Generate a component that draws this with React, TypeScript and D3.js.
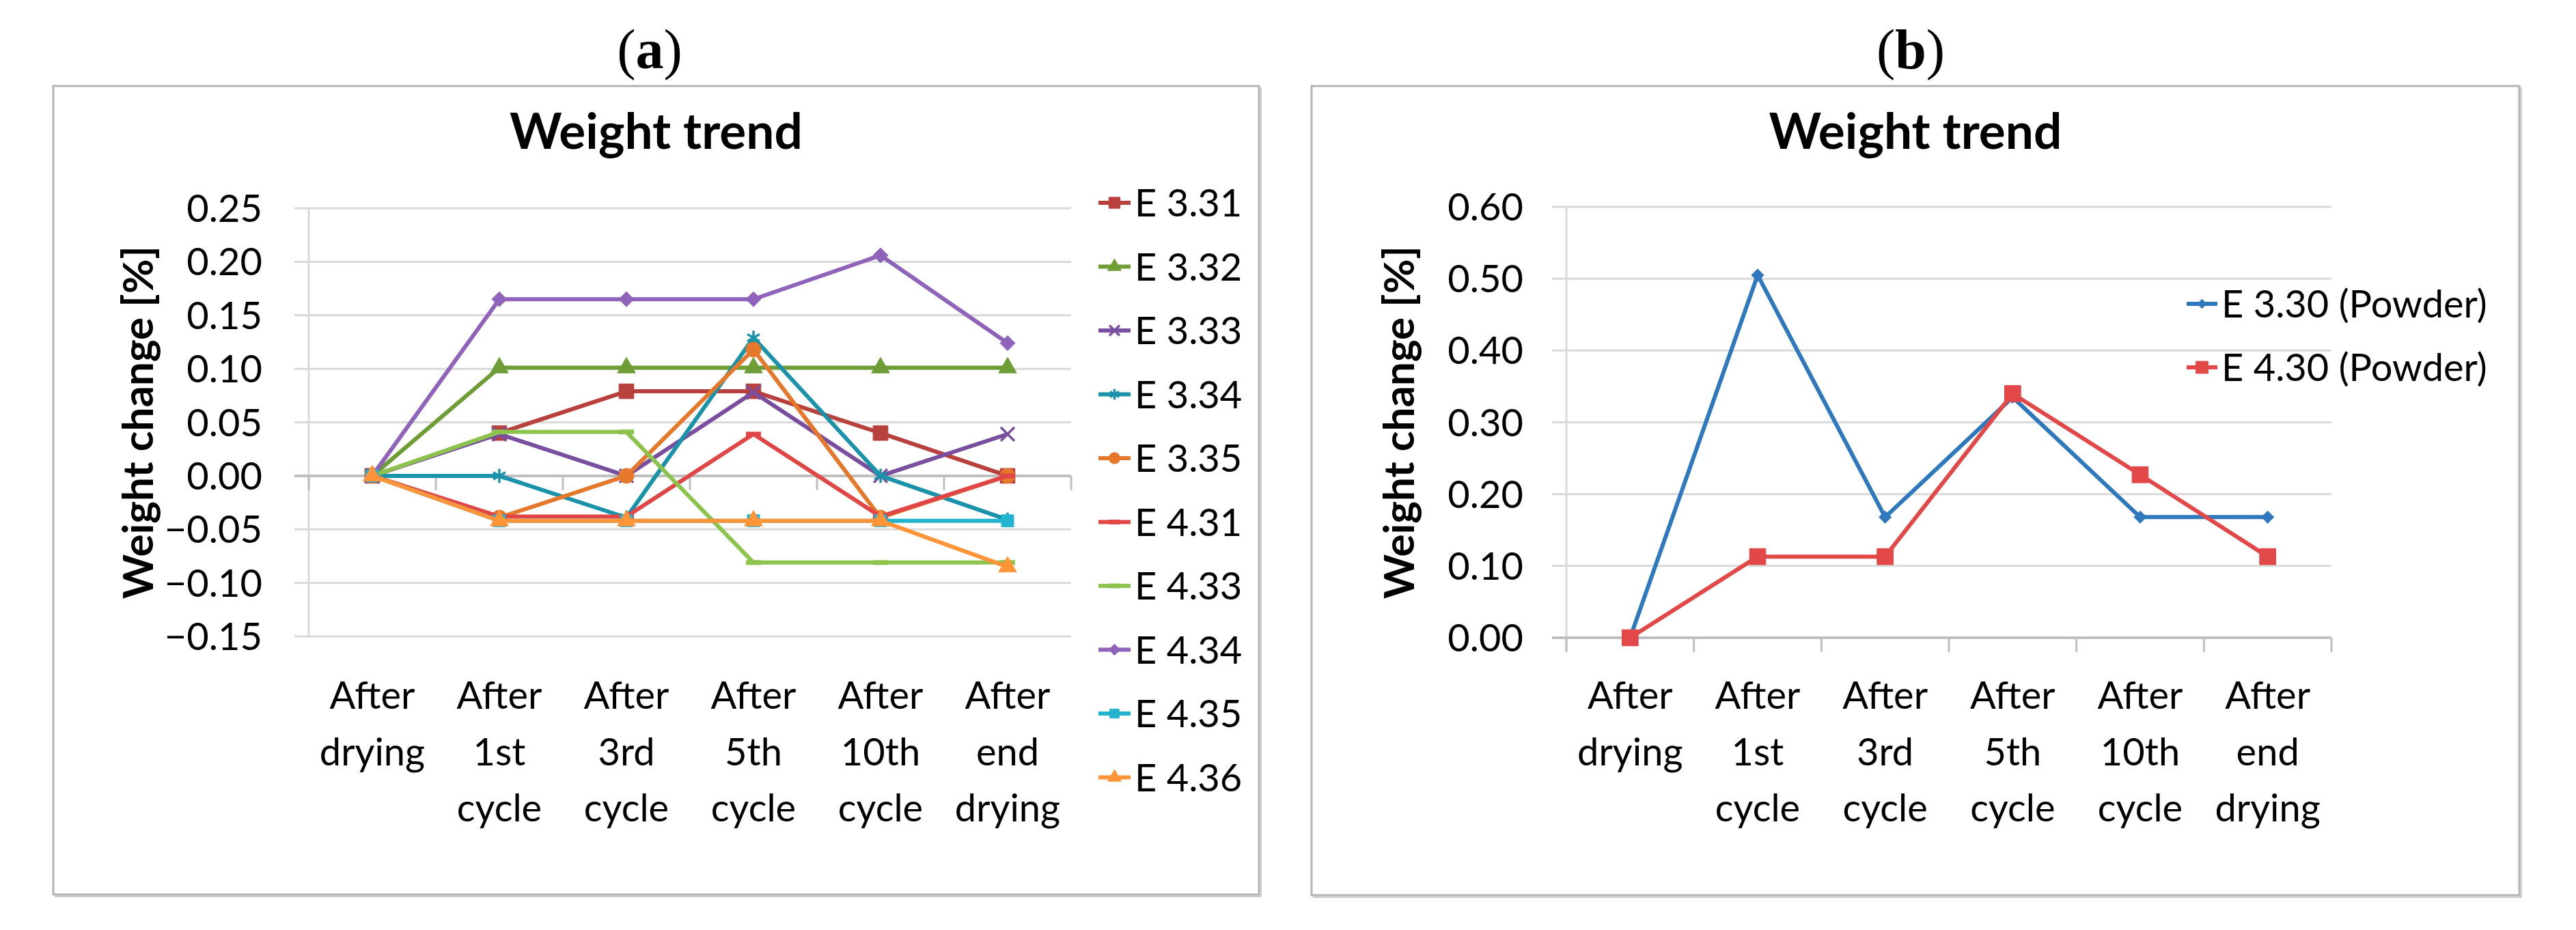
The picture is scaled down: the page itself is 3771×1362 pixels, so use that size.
import React from "react";
import * as d3 from "d3";

// ---------------- data ----------------
const CATEGORY_LINES: string[][] = [
  ["After", "drying"],
  ["After", "1st", "cycle"],
  ["After", "3rd", "cycle"],
  ["After", "5th", "cycle"],
  ["After", "10th", "cycle"],
  ["After", "end", "drying"],
];

// panel (a)
const E331 = [0, 0.04, 0.079, 0.079, 0.04, 0];
const E332 = [0, 0.101, 0.101, 0.101, 0.101, 0.101];
const E333 = [0, 0.039, 0, 0.078, 0, 0.039];
const E334 = [0, 0, -0.039, 0.129, 0, -0.041];
const E335 = [0, -0.039, 0, 0.118, -0.039, 0];
const E431 = [0, -0.038, -0.038, 0.039, -0.038, 0];
const E433 = [0, 0.041, 0.041, -0.081, -0.081, -0.081];
const E434 = [0, 0.165, 0.165, 0.165, 0.206, 0.124];
const E435 = [0, -0.042, -0.042, -0.042, -0.042, -0.042];
const E436 = [0, -0.042, -0.042, -0.042, -0.042, -0.085];
const SERIES_A_NAMES = ["E 3.31", "E 3.32", "E 3.33", "E 3.34", "E 3.35", "E 4.31", "E 4.33", "E 4.34", "E 4.35", "E 4.36"];
const SERIES_A_VALUES = [E331, E332, E333, E334, E335, E431, E433, E434, E435, E436];
const Y_TICKS_A = [-0.15, -0.1, -0.05, 0, 0.05, 0.1, 0.15, 0.2, 0.25];

// panel (b)
const E330 = [0, 0.505, 0.168, 0.335, 0.168, 0.168];
const E430 = [0, 0.113, 0.113, 0.34, 0.227, 0.113];
const SERIES_B_NAMES = ["E 3.30 (Powder)", "E 4.30 (Powder)"];
const SERIES_B_VALUES = [E330, E430];
const Y_TICKS_B = [0, 0.1, 0.2, 0.3, 0.4, 0.5, 0.6];

const TITLE = "Weight trend";
const Y_TITLE = "Weight change [%]";

// ---------------- styles ----------------
type MarkerKind = "square" | "triangle" | "times" | "asterisk" | "circle" | "dash" | "diamond";
interface Style { color: string; marker: MarkerKind; size: number; }

const STYLES_A: Style[] = [
  { color: "#B8403D", marker: "square", size: 470 },
  { color: "#6E9C35", marker: "triangle", size: 300 },
  { color: "#7A4E9E", marker: "times", size: 260 },
  { color: "#1A92AA", marker: "asterisk", size: 300 },
  { color: "#E5782B", marker: "circle", size: 380 },
  { color: "#E04646", marker: "dash", size: 0 },
  { color: "#8CC34C", marker: "dash", size: 0 },
  { color: "#9063BA", marker: "diamond", size: 310 },
  { color: "#22B3CF", marker: "square", size: 320 },
  { color: "#FF9438", marker: "triangle", size: 300 },
];
const STYLES_B: Style[] = [
  { color: "#2E78BE", marker: "diamond", size: 210 },
  { color: "#E24848", marker: "square", size: 560 },
];

const FONT = "Lato, 'Open Sans', 'DejaVu Sans', sans-serif";
const SERIF = "'Palatino Linotype', 'Book Antiqua', Palatino, 'Liberation Serif', 'DejaVu Serif', serif";
const GRID = "#D9D9D9";
const AXIS = "#BFBFBF";

const SYMBOLS: Record<string, d3.SymbolType> = {
  square: d3.symbolSquare,
  triangle: d3.symbolTriangle,
  circle: d3.symbolCircle,
  diamond: d3.symbolDiamond2,
  times: d3.symbolTimes,
  asterisk: d3.symbolAsterisk,
};

function Marker({ style, x, y, scale = 1 }: { style: Style; x: number; y: number; scale?: number }) {
  if (style.marker === "dash") {
    const w = 22 * scale;
    return <rect x={x - w / 2} y={y - 3.5} width={w} height={7} fill={style.color} />;
  }
  const strokeOnly = style.marker === "times" || style.marker === "asterisk";
  const d = d3.symbol(SYMBOLS[style.marker], style.size * scale * scale)() || "";
  return (
    <path
      d={d}
      transform={`translate(${x},${y})`}
      fill={strokeOnly ? "none" : style.color}
      stroke={style.color}
      strokeWidth={strokeOnly ? 3.5 : 1}
    />
  );
}

interface PanelProps {
  label: string;
  labelX: number;
  frame: [number, number, number, number];
  plotLeft: number;
  plotRight: number;
  plotTop: number;
  plotBottom: number;
  yTicks: number[];
  names: string[];
  values: number[][];
  styles: Style[];
  tickLabelX: number;
  yTitleX: number;
  legendLineX0: number;
  legendLineX1: number;
  legendTextX: number;
  legendY0: number;
  legendStep: number;
}

function Panel(p: PanelProps) {
  const idx = d3.range(CATEGORY_LINES.length);
  const x = d3.scaleBand<number>().domain(idx).range([p.plotLeft, p.plotRight]);
  const cx = (i: number) => (x(i) as number) + x.bandwidth() / 2;
  const y = d3
    .scaleLinear()
    .domain([d3.min(p.yTicks) as number, d3.max(p.yTicks) as number])
    .range([p.plotBottom, p.plotTop]);
  const line = d3
    .line<number>()
    .x((_, i) => cx(i))
    .y((v) => y(v));
  const fmt = d3.format(".2f");
  const y0 = y(0);
  const tickLen = 21;
  const [fx0, fy0, fx1, fy1] = p.frame;
  const frameCx = (fx0 + fx1) / 2;
  const boundaries = d3.range(CATEGORY_LINES.length + 1).map((k) => p.plotLeft + k * x.bandwidth());

  return (
    <g>
      {/* panel label */}
      <text x={p.labelX} y={100} textAnchor="middle" fontFamily={SERIF} fontSize={82} fill="#000">
        <tspan>(</tspan>
        <tspan fontWeight="bold">{p.label}</tspan>
        <tspan>)</tspan>
      </text>
      {/* frame */}
      <rect x={fx0} y={fy0} width={fx1 - fx0} height={fy1 - fy0} fill="#fff" stroke="#B4B4B4" strokeWidth={3} />
      <line x1={fx1 + 2.5} y1={fy0 + 2} x2={fx1 + 2.5} y2={fy1 + 3} stroke="#CCCCCC" strokeWidth={3} />
      <line x1={fx0 + 2} y1={fy1 + 2.5} x2={fx1 + 3} y2={fy1 + 2.5} stroke="#CCCCCC" strokeWidth={3} />
      {/* title */}
      <text x={frameCx} y={218} textAnchor="middle" fontFamily={FONT} fontWeight="bold" fontSize={73} fill="#000">
        {TITLE}
      </text>
      {/* gridlines */}
      {p.yTicks
        .filter((t) => t !== 0)
        .map((t) => (
          <line key={t} x1={p.plotLeft - tickLen} x2={p.plotRight} y1={y(t)} y2={y(t)} stroke={GRID} strokeWidth={3} />
        ))}
      {/* vertical axis */}
      <line
        x1={p.plotLeft}
        x2={p.plotLeft}
        y1={p.plotTop}
        y2={Math.max(p.plotBottom, y0 + tickLen)}
        stroke={GRID}
        strokeWidth={3}
      />
      {/* horizontal axis at zero */}
      <line x1={p.plotLeft - tickLen} x2={p.plotRight} y1={y0} y2={y0} stroke={AXIS} strokeWidth={4} />
      {boundaries.map((b, k) => (
        <line key={k} x1={b} x2={b} y1={y0} y2={y0 + tickLen} stroke={AXIS} strokeWidth={3} />
      ))}
      {/* y tick labels */}
      {p.yTicks.map((t) => (
        <text key={t} x={p.tickLabelX} y={y(t) + 20} textAnchor="end" fontFamily={FONT} fontSize={56} fill="#000">
          {fmt(t)}
        </text>
      ))}
      {/* y title */}
      <text
        transform={`translate(${p.yTitleX},${(p.plotTop + p.plotBottom) / 2}) rotate(-90)`}
        textAnchor="middle"
        fontFamily={FONT}
        fontWeight="bold"
        fontSize={62}
        fill="#000"
      >
        {Y_TITLE}
      </text>
      {/* category labels */}
      {CATEGORY_LINES.map((lines, i) => (
        <text key={i} textAnchor="middle" fontFamily={FONT} fontSize={56} fill="#000">
          {lines.map((s, j) => (
            <tspan key={j} x={cx(i)} y={1038 + j * 82.5}>
              {s}
            </tspan>
          ))}
        </text>
      ))}
      {/* series */}
      {p.values.map((vals, si) => (
        <g key={si}>
          <path d={line(vals) || ""} fill="none" stroke={p.styles[si].color} strokeWidth={6} strokeLinejoin="round" />
          {vals.map((v, i) => (
            <Marker key={i} style={p.styles[si]} x={cx(i)} y={y(v)} />
          ))}
        </g>
      ))}
      {/* legend */}
      {p.names.map((n, si) => {
        const ly = p.legendY0 + si * p.legendStep;
        const st = p.styles[si];
        return (
          <g key={n}>
            <line x1={p.legendLineX0} x2={p.legendLineX1} y1={ly} y2={ly} stroke={st.color} strokeWidth={6} />
            <Marker style={st} x={(p.legendLineX0 + p.legendLineX1) / 2} y={ly} scale={0.75} />
            <text x={p.legendTextX} y={ly + 20} fontFamily={FONT} fontSize={56} fill="#000">
              {n}
            </text>
          </g>
        );
      })}
    </g>
  );
}

export default function App() {
  return (
    <svg
      width={3771}
      height={1362}
      viewBox="0 0 3771 1362"
      style={{ position: "absolute", left: 0, top: 0, background: "#fff" }}
    >
      <rect x={0} y={0} width={3771} height={1362} fill="#fff" />
      <Panel
        label="a"
        labelX={951}
        frame={[78, 126, 1843, 1310]}
        plotLeft={452}
        plotRight={1568}
        plotTop={305}
        plotBottom={932}
        yTicks={Y_TICKS_A}
        names={SERIES_A_NAMES}
        values={SERIES_A_VALUES}
        styles={STYLES_A}
        tickLabelX={384}
        yTitleX={224}
        legendLineX0={1608}
        legendLineX1={1655}
        legendTextX={1661}
        legendY0={297}
        legendStep={93.5}
      />
      <Panel
        label="b"
        labelX={2797}
        frame={[1920, 126, 3688, 1311]}
        plotLeft={2293}
        plotRight={3413}
        plotTop={303}
        plotBottom={934}
        yTicks={Y_TICKS_B}
        names={SERIES_B_NAMES}
        values={SERIES_B_VALUES}
        styles={STYLES_B}
        tickLabelX={2230}
        yTitleX={2070}
        legendLineX0={3201}
        legendLineX1={3246}
        legendTextX={3252}
        legendY0={445}
        legendStep={93}
      />
    </svg>
  );
}
